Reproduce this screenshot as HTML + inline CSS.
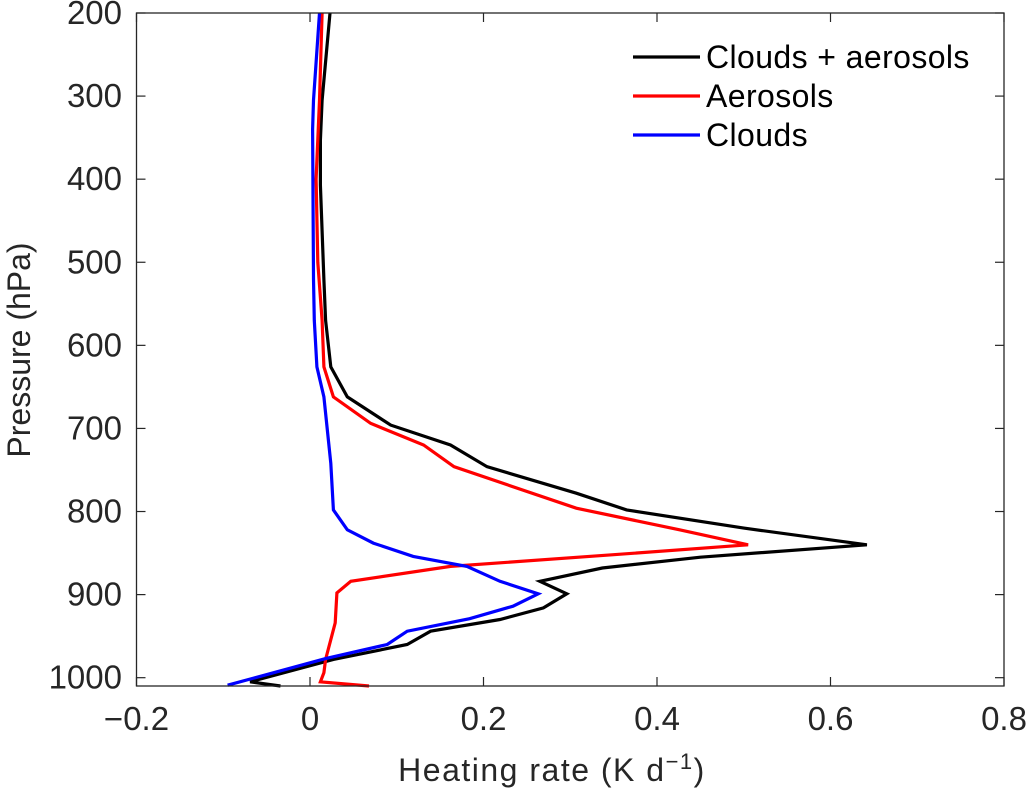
<!DOCTYPE html>
<html><head><meta charset="utf-8"><style>
html,body{margin:0;padding:0;background:#fff;}
svg{display:block;font-family:"Liberation Sans",sans-serif;}
</style></head><body>
<svg id="chart" width="1028" height="789" viewBox="0 0 1028 789" xmlns="http://www.w3.org/2000/svg">
<g id="series"></g>
<g id="axes"></g>
<g id="legend"></g>
</svg>
<script>
const xTicks = [-0.2, 0, 0.2, 0.4, 0.6, 0.8];
const xTickLabels = ["\u22120.2", "0", "0.2", "0.4", "0.6", "0.8"];
const yTicks = [200, 300, 400, 500, 600, 700, 800, 900, 1000];
const seriesNames = ["Clouds + aerosols", "Aerosols", "Clouds"];
const blackP = [200, 305, 353, 407, 521, 570, 626, 662, 696, 720, 746, 778, 798, 820, 840, 855, 868, 884, 899, 916, 930, 944, 960, 978, 1005, 1010];
const blackX = [0.023, 0.014, 0.012, 0.012, 0.016, 0.018, 0.024, 0.043, 0.093, 0.162, 0.204, 0.307, 0.365, 0.50, 0.642, 0.45, 0.337, 0.265, 0.296, 0.269, 0.219, 0.139, 0.112, 0.027, -0.069, -0.034];
const redP = [200, 305, 400, 500, 570, 626, 662, 694, 720, 746, 796, 822, 840, 852, 866, 884, 898, 934, 978, 994, 1005, 1010];
const redX = [0.014, 0.011, 0.007, 0.009, 0.014, 0.016, 0.027, 0.070, 0.131, 0.166, 0.307, 0.426, 0.505, 0.35, 0.162, 0.047, 0.031, 0.029, 0.018, 0.016, 0.012, 0.068];
const blueP = [200, 305, 340, 520, 570, 626, 662, 742, 798, 822, 838, 854, 866, 884, 899, 914, 929, 944, 960, 977, 1009];
const blueX = [0.011, 0.004, 0.003, 0.004, 0.005, 0.008, 0.016, 0.024, 0.027, 0.043, 0.073, 0.119, 0.181, 0.219, 0.263, 0.234, 0.184, 0.112, 0.089, 0.018, -0.095];

const L=136.5, R=1004, T=13, B=686;
const xMin=-0.2, xMax=0.8, yMin=200, yMax=1010;
function sx(v){return L+(v-xMin)/(xMax-xMin)*(R-L);}
function sy(p){return T+(p-yMin)/(yMax-yMin)*(B-T);}
const NS="http://www.w3.org/2000/svg";
function mk(tag, attrs, parent){const e=document.createElementNS(NS,tag);for(const k in attrs)e.setAttribute(k,attrs[k]);parent.appendChild(e);return e;}

const sg=document.getElementById('series');
const data=[[blackX,blackP,'#000000','black'],[redX,redP,'#ff0000','red'],[blueX,blueP,'#0000ff','blue']];
data.forEach((d,i)=>{
  const pts=d[0].map((v,j)=>sx(v).toFixed(1)+','+sy(d[1][j]).toFixed(1)).join(' ');
  const pl=mk('polyline',{points:pts,fill:'none',stroke:d[2],'stroke-width':3.2,'stroke-linejoin':'miter'},sg);
  
  
});

const ag=document.getElementById('axes');
const box=mk('rect',{x:L,y:T,width:R-L,height:B-T,fill:'none',stroke:'#262626','stroke-width':1.3},ag);


xTicks.forEach((v,i)=>{
  const x=sx(v);
  mk('line',{x1:x,y1:B,x2:x,y2:B-9,stroke:'#262626','stroke-width':1.2},ag);
  mk('line',{x1:x,y1:T,x2:x,y2:T+9,stroke:'#262626','stroke-width':1.2},ag);
  const t=mk('text',{x:x,y:730,'text-anchor':'middle','font-size':33,fill:'#262626'},ag);
  t.textContent=xTickLabels[i];
  
  
});
yTicks.forEach(v=>{
  const y=sy(v);
  mk('line',{x1:L,y1:y,x2:L+9,y2:y,stroke:'#262626','stroke-width':1.2},ag);
  mk('line',{x1:R,y1:y,x2:R-9,y2:y,stroke:'#262626','stroke-width':1.2},ag);
  const t=mk('text',{x:122,y:y+11,'text-anchor':'end','font-size':33,fill:'#262626'},ag);
  t.textContent=String(v);
  
  
});
const xl=mk('text',{x:552,y:781,'text-anchor':'middle','font-size':32,'letter-spacing':1.5,fill:'#262626'},ag);
xl.innerHTML='Heating  rate (K d<tspan dy="-12" font-size="22">\u22121</tspan><tspan dy="12">)</tspan>';


const yl=mk('text',{x:0,y:0,transform:'translate(30,350) rotate(-90)','text-anchor':'middle','font-size':32,fill:'#262626'},ag);
yl.textContent='Pressure (hPa)';



const lg=document.getElementById('legend');
const cols=['#000000','#ff0000','#0000ff'];
seriesNames.forEach((n,i)=>{
  const y=57+i*39;
  const g=mk('g',{},lg);
  
  
  mk('line',{x1:633,y1:y,x2:700,y2:y,stroke:cols[i],'stroke-width':3.2},g);
  const t=mk('text',{x:706,y:y+11,'font-size':32,'letter-spacing':0.4,fill:'#000'},g);
  t.textContent=n;
});
</script>
</body></html>
